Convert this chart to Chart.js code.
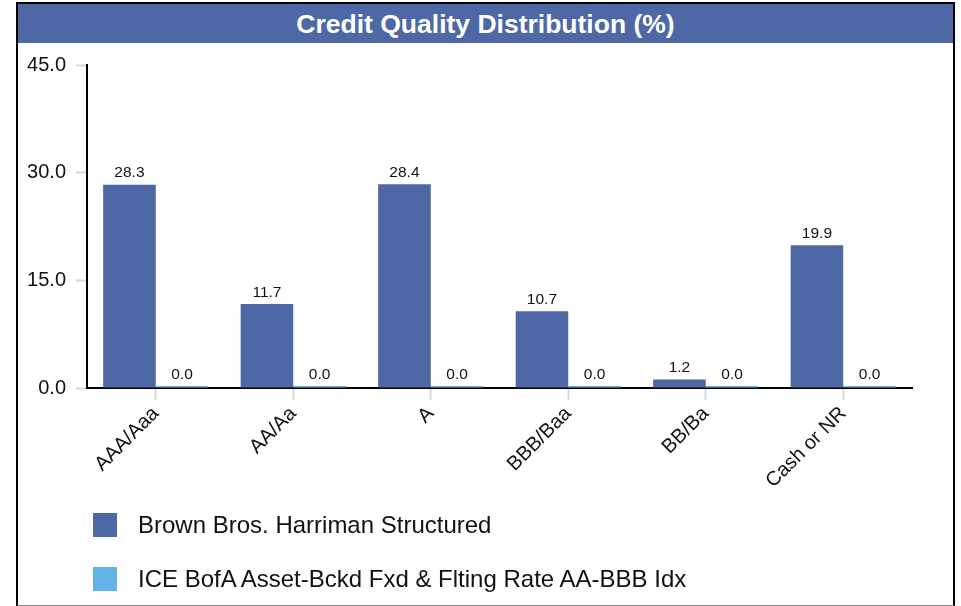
<!DOCTYPE html>
<html>
    <head>
        <meta charset="utf-8">
        <title>Credit Quality Distribution (%)</title>
        <script src="https://cdn.jsdelivr.net/npm/chart.js"></script>
        <style>
            body {
                margin: 0;
                background: #fff;
                font-family: "Liberation Sans", Arial, sans-serif;
            }
            .frame {
                position: absolute;
                left: 16px;
                top: 2px;
                width: 935px;
                height: 601px;
                border: 2px solid #000;
                border-bottom: 1px solid #888;
            }
            .frame h1 {
                margin: 0;
                height: 39px;
                line-height: 40px;
                background: #4e67a5;
                color: #fff;
                font-size: 26.5px;
                font-weight: bold;
                text-align: center;
            }
            #chartBox {
                position: absolute;
                left: 0;
                top: 43px;
            }
            .legend {
                position: absolute;
                left: 93px;
                top: 498px;
                font-size: 24px;
                color: #111;
            }
            .legend div {
                height: 54px;
                display: flex;
                align-items: center;
            }
            .legend span {
                display: inline-block;
                width: 24px;
                height: 24px;
                margin-right: 21px;
            }
        </style>
    </head>
    <body>
        <div class="frame">
            <h1>Credit Quality Distribution (%)</h1>
        </div>
        <canvas id="chartBox" width="961" height="460"></canvas>
        <div class="legend" id="legend"></div>

        <script>
            const ratings = ["AAA/Aaa", "AA/Aa", "A", "BBB/Baa", "BB/Ba", "Cash or NR"];
            const seriesNames = ["Brown Bros. Harriman Structured", "ICE BofA Asset-Bckd Fxd & Flting Rate AA-BBB Idx"];
            const fundValues = [28.3, 11.7, 28.4, 10.7, 1.2, 19.9];
            const indexValues = [0.0, 0.0, 0.0, 0.0, 0.0, 0.0];
            const yTicks = [0, 15, 30, 45];

            const fundColor = "#4e67a5";
            const indexColor = "#64b4ea";
            const fontFamily = "'Liberation Sans', Arial, sans-serif";

            // value text above every bar
            const barValues = {
                id: "barValues",
                afterDatasetsDraw(chart) {
                    const ctx = chart.ctx;
                    ctx.save();
                    ctx.font = "15.5px " + fontFamily;
                    ctx.fillStyle = "#111";
                    ctx.textAlign = "center";
                    ctx.textBaseline = "bottom";
                    chart.data.datasets.forEach((ds, i) => {
                        chart.getDatasetMeta(i).data.forEach((bar, j) => {
                            ctx.fillText(ds.data[j].toFixed(1), bar.x, bar.y - 4);
                        });
                    });
                    ctx.restore();
                }
            };

            const chart = new Chart(document.getElementById("chartBox"), {
                type: "bar",
                data: {
                    labels: ratings,
                    datasets: [{
                        label: seriesNames[0],
                        data: fundValues,
                        backgroundColor: fundColor
                    }, {
                        label: seriesNames[1],
                        data: indexValues,
                        backgroundColor: indexColor,
                        minBarLength: 2
                    }]
                },
                options: {
                    responsive: false,
                    animation: false,
                    layout: {
                        padding: { top: 21, right: 49, left: 0, bottom: 0 }
                    },
                    datasets: {
                        bar: {
                            categoryPercentage: 0.765,
                            barPercentage: 1.0
                        }
                    },
                    plugins: {
                        legend: { display: false },
                        tooltip: { enabled: false }
                    },
                    scales: {
                        x: {
                            grid: {
                                offset: false,
                                drawOnChartArea: false,
                                tickLength: 12,
                                tickColor: "#d9d9d9",
                                tickWidth: 2
                            },
                            border: { display: true, color: "#000", width: 2 },
                            ticks: {
                                color: "#111",
                                font: { size: 20, family: fontFamily },
                                minRotation: 45,
                                maxRotation: 45,
                                autoSkip: false,
                                padding: 2
                            },
                            afterFit(scale) { scale.height = 115; }
                        },
                        y: {
                            min: 0,
                            max: 45,
                            afterBuildTicks(scale) {
                                scale.ticks = yTicks.map(v => ({ value: v }));
                            },
                            grid: {
                                drawOnChartArea: false,
                                tickLength: 11,
                                tickColor: "#d9d9d9",
                                tickWidth: 2
                            },
                            border: { display: true, color: "#000", width: 2 },
                            ticks: {
                                color: "#111",
                                font: { size: 20, family: fontFamily },
                                padding: 10,
                                callback: v => v.toFixed(1)
                            },
                            afterFit(scale) { scale.width = 87; }
                        }
                    }
                },
                plugins: [barValues]
            });

            // legend as a plain list under the chart
            const legend = document.getElementById("legend");
            chart.data.datasets.forEach(ds => {
                const row = document.createElement("div");
                const box = document.createElement("span");
                box.style.background = ds.backgroundColor;
                row.appendChild(box);
                row.appendChild(document.createTextNode(ds.label));
                legend.appendChild(row);
            });
        </script>
    </body>
</html>
